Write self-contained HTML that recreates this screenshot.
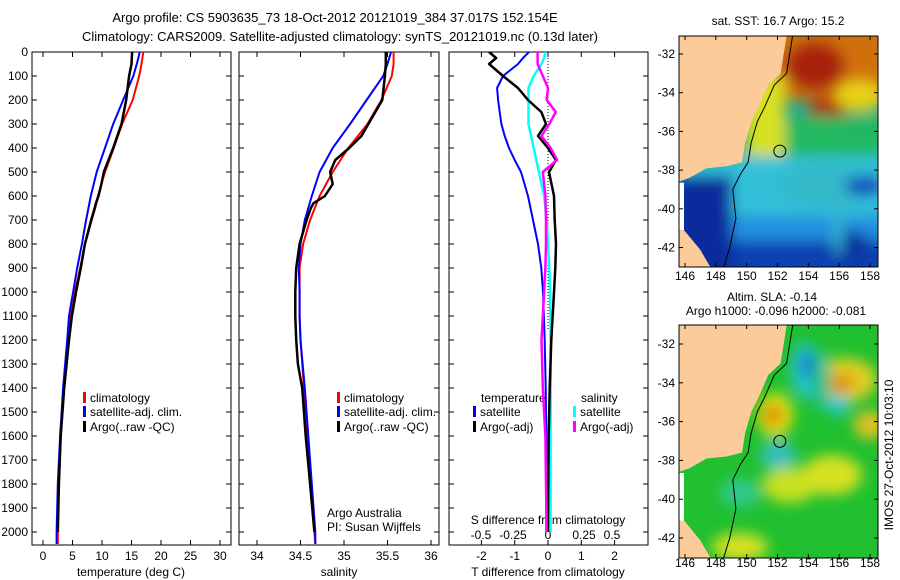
<!DOCTYPE html>
<html><head><meta charset="utf-8"><style>
html,body{margin:0;padding:0;background:#fff;}
svg{display:block;font-family:"Liberation Sans",sans-serif;}
</style></head><body>
<svg id="fig" width="900" height="580" viewBox="0 0 900 580" xmlns="http://www.w3.org/2000/svg">
<defs>
<clipPath id="c1"><rect x="32" y="52" width="199" height="493"/></clipPath>
<clipPath id="c2"><rect x="239" y="52" width="200" height="493"/></clipPath>
<clipPath id="c3"><rect x="449" y="52" width="199" height="493"/></clipPath>
<clipPath id="cm1"><rect x="679" y="36" width="199" height="231"/></clipPath>
<clipPath id="cm2"><rect x="679" y="325" width="199" height="233"/></clipPath>
<filter id="bl" x="-20%" y="-20%" width="140%" height="140%"><feGaussianBlur stdDeviation="7"/></filter>
</defs>
<g font-size="13" text-anchor="middle" fill="#000">
<text x="335" y="22">Argo profile: CS 5903635_73 18-Oct-2012 20121019_384 37.017S 152.154E</text>
<text x="340" y="41">Climatology: CARS2009. Satellite-adjusted climatology: synTS_20121019.nc (0.13d later)</text>
</g>
<g id="axes"></g>
<g id="series"></g>
<g id="maps"></g>
</svg>
<script>
// ---- data: depths (dbar) ----
const depths = [0,50,100,200,300,400,500,600,700,800,900,1000,1100,1200,1400,1600,1800,2000,2050];
// temperature (deg C)
const tempClim = [17.0,16.7,16.3,15.2,13.4,12.0,10.5,9.3,8.1,7.1,6.3,5.4,4.7,4.3,3.6,3.0,2.7,2.5,2.5];
const tempSat  = [16.4,15.9,15.3,13.6,11.9,10.5,9.1,8.1,7.3,6.6,5.8,5.1,4.4,4.1,3.4,2.9,2.5,2.3,2.3];
const argoDepths = [0,50,100,200,300,350,400,450,500,550,600,630,650,700,800,900,1000,1100,1200,1300,1400,1600,1800,2000];
const tempArgo = [15.1,15.0,14.6,14.1,13.3,12.6,11.9,11.1,10.3,9.9,9.4,9.0,8.8,8.2,7.1,6.4,5.6,4.9,4.4,4.0,3.6,3.0,2.7,2.5];
// salinity
const salClim = [35.57,35.57,35.55,35.43,35.27,35.05,34.87,34.72,34.61,34.53,34.49,34.49,34.49,34.50,34.54,34.58,34.62,34.66,34.67];
const salSat  = [35.54,35.50,35.45,35.26,35.07,34.87,34.72,34.63,34.55,34.50,34.48,34.49,34.49,34.50,34.55,34.59,34.63,34.67,34.67];
const salArgo = [35.48,35.48,35.47,35.44,35.28,35.2,35.06,34.9,34.84,34.87,34.78,34.65,34.62,34.57,34.49,34.45,34.44,34.44,34.45,34.47,34.52,34.56,34.61,34.66];
// differences from climatology
const diffDepths = [0,25,50,100,150,200,250,300,350,400,450,500,600,700,800,900,1000,1200,1400,1600,1800,2000];
const dTsat  = [-0.57,-0.75,-0.9,-1.35,-1.53,-1.5,-1.45,-1.4,-1.3,-1.17,-1.0,-0.81,-0.6,-0.45,-0.3,-0.2,-0.15,-0.1,-0.07,-0.05,-0.05,-0.05];
const dTargo = [-1.77,-1.56,-1.77,-1.35,-0.9,-0.6,-0.2,-0.06,-0.3,0.0,0.24,0.03,0.18,0.2,0.24,0.22,0.18,0.1,0.05,0.02,0.01,0.0];
const dSsat  = [-0.02,-0.03,-0.05,-0.11,-0.15,-0.15,-0.15,-0.15,-0.13,-0.11,-0.09,-0.07,-0.03,-0.01,0.0,0.01,0.015,0.02,0.02,0.02,0.02,0.02];
const dSargo = [-0.08,-0.08,-0.08,-0.04,0.0,-0.01,0.06,0.01,-0.05,0.02,0.07,-0.04,-0.02,-0.015,-0.015,-0.02,-0.03,-0.05,-0.04,-0.02,-0.015,-0.01];
// tick labels
const depthTicks = [0,100,200,300,400,500,600,700,800,900,1000,1100,1200,1300,1400,1500,1600,1700,1800,1900,2000];
const tempTicks = [0,5,10,15,20,25,30];
const salTicks = [34,34.5,35,35.5,36];
const salTickLabels = ["34","34.5","35","35.5","36"];
const dTTicks = [-2,-1,0,1,2];
const dSTicks = [-0.5,-0.25,0,0.25,0.5];
const dSTickLabels = ["-0.5","-0.25","0","0.25","0.5"];
const lonTicks = [146,148,150,152,154,156,158];
const latTicks = [-32,-34,-36,-38,-40,-42];

const NS="http://www.w3.org/2000/svg";
const yD = d => 52 + d*0.24;
const xT = t => 43 + t*5.9;
const xS = s => 257 + (s-34)*87;
const xDT = v => 548 + v*33.3;
const xDS = v => 548 + v*130;
const xLon = l => 685 + (l-146)*15.42;
const yLat1 = l => 54 + (-32-l)*19.35;
const yLat2 = l => 344 + (-32-l)*19.4;

function mk(tag, attrs, parent, text){
  const e=document.createElementNS(NS,tag);
  for(const k in attrs) e.setAttribute(k,attrs[k]);
  if(text!==undefined) e.textContent=text;
  parent.appendChild(e); return e;
}
const axes=document.getElementById('axes');
const series=document.getElementById('series');
const maps=document.getElementById('maps');

const frames=[[32,231,'temperature-panel-frame'],[239,439,'salinity-panel-frame'],[449,648,'difference-panel-frame']];
frames.forEach(f=>{
  const r=mk('rect',{x:f[0],y:52,width:f[1]-f[0],height:493,fill:'none',stroke:'#000','stroke-width':1},axes);
  
  
  depthTicks.forEach(d=>{
    mk('line',{x1:f[0],x2:f[0]+5,y1:yD(d),y2:yD(d),stroke:'#000'},axes);
    mk('line',{x1:f[1]-5,x2:f[1],y1:yD(d),y2:yD(d),stroke:'#000'},axes);
  });
});
depthTicks.forEach(d=>{
  const t=mk('text',{x:28,y:yD(d)+4,'font-size':12,'text-anchor':'end'},axes,String(d));
  
  
});
tempTicks.forEach(v=>{
  mk('line',{x1:xT(v),x2:xT(v),y1:545,y2:540,stroke:'#000'},axes);
  mk('line',{x1:xT(v),x2:xT(v),y1:52,y2:57,stroke:'#000'},axes);
  const t=mk('text',{x:xT(v),y:560,'font-size':12,'text-anchor':'middle'},axes,String(v));
  
  
});
salTicks.forEach((v,i)=>{
  mk('line',{x1:xS(v),x2:xS(v),y1:545,y2:540,stroke:'#000'},axes);
  mk('line',{x1:xS(v),x2:xS(v),y1:52,y2:57,stroke:'#000'},axes);
  const t=mk('text',{x:xS(v),y:560,'font-size':12,'text-anchor':'middle'},axes,salTickLabels[i]);
  
  
});
dTTicks.forEach(v=>{
  mk('line',{x1:xDT(v),x2:xDT(v),y1:545,y2:540,stroke:'#000'},axes);
  mk('line',{x1:xDT(v),x2:xDT(v),y1:52,y2:57,stroke:'#000'},axes);
  const t=mk('text',{x:xDT(v),y:560,'font-size':12,'text-anchor':'middle'},axes,String(v));
  
  
});
dSTicks.forEach((v,i)=>{
  const t=mk('text',{x:[481,513,548,584,612][i],y:539,'font-size':12,'text-anchor':'middle'},axes,dSTickLabels[i]);
  
  
});
const zl=mk('line',{x1:xDT(0),x2:xDT(0),y1:52,y2:330,stroke:'#000','stroke-dasharray':'1 2'},axes);



[[131,576,'temperature (deg C)','temperature-axis-title'],[339,576,'salinity','salinity-axis-title'],[548,576,'T difference from climatology','t-diff-axis-title'],[548,524,'S difference from climatology','s-diff-axis-title']].forEach(a=>{
  const t=mk('text',{x:a[0],y:a[1],'font-size':12,'text-anchor':'middle'},axes,a[2]);
  
  
});
const an1=mk('text',{x:327,y:517,'font-size':12},axes,'Argo Australia');


const an2=mk('text',{x:327,y:531,'font-size':12},axes,'PI: Susan Wijffels');



function line(xs, ds, xf, color, w, clip, name){
  const pts=xs.map((v,i)=>xf(v).toFixed(1)+','+yD(ds[i]).toFixed(1)).join(' ');
  const p=mk('polyline',{points:pts,fill:'none',stroke:color,'stroke-width':w,'clip-path':'url(#'+clip+')','stroke-linejoin':'round'},series);
  
  
}
line(tempClim, depths, xT, '#ff0000', 2, 'c1', 'temperature-climatology-line');
line(tempSat, depths, xT, '#0000ff', 2, 'c1', 'temperature-satellite-line');
line(tempArgo, argoDepths, xT, '#000', 2.5, 'c1', 'temperature-argo-line');
line(salClim, depths, xS, '#ff0000', 2, 'c2', 'salinity-climatology-line');
line(salSat, depths, xS, '#0000ff', 2, 'c2', 'salinity-satellite-line');
line(salArgo, argoDepths, xS, '#000', 2.5, 'c2', 'salinity-argo-line');
line(dTsat, diffDepths, xDT, '#0000ff', 2, 'c3', 't-diff-satellite-line');
line(dSsat, diffDepths, xDS, '#00ffff', 2.5, 'c3', 's-diff-satellite-line');
line(dTargo, diffDepths, xDT, '#000', 2.5, 'c3', 't-diff-argo-line');
line(dSargo, diffDepths, xDS, '#ff00ff', 2.5, 'c3', 's-diff-argo-line');

function leg(x,y,color,label,name){
  const g=mk('g',{},axes);
  
  
  mk('rect',{x:x,y:y-10,width:3,height:11,fill:color},g);
  mk('text',{x:x+7,y:y,'font-size':12},g,label);
}
leg(83,402,'#ff0000','climatology','legend-temp-climatology');
leg(83,416,'#0000ff','satellite-adj. clim.','legend-temp-satellite');
leg(83,431,'#000','Argo(..raw -QC)','legend-temp-argo');
leg(337,402,'#ff0000','climatology','legend-sal-climatology');
leg(337,416,'#0000ff','satellite-adj. clim.','legend-sal-satellite');
leg(337,431,'#000','Argo(..raw -QC)','legend-sal-argo');
const lt=mk('text',{x:481,y:402,'font-size':12},axes,'temperature');


const ls=mk('text',{x:581,y:402,'font-size':12},axes,'salinity');


leg(473,416,'#0000ff','satellite','legend-tdiff-satellite');
leg(473,431,'#000','Argo(-adj)','legend-tdiff-argo');
leg(573,416,'#00ffff','satellite','legend-sdiff-satellite');
leg(573,431,'#ff00ff','Argo(-adj)','legend-sdiff-argo');

// ---- maps ----
const coast = [[152.6,-31],[152.2,-33],[151.4,-33.6],[150.8,-34.7],[150.3,-35.5],[149.9,-36.6],[149.7,-37.6],[148.7,-37.8],[147.4,-37.9],[146.3,-38.4],[145.6,-38.6]];
function drawMap(top, yLat, clip, blobs, base, name){
  const g=mk('g',{'clip-path':'url(#'+clip+')'},maps);
  
  
  mk('rect',{x:679,y:top,width:199,height:240,fill:base},g);
  const bg=mk('g',{filter:'url(#bl)'},g);
  blobs.forEach(b=>{
    if(b[0]==='r') mk('rect',{x:b[1],y:b[2]+top,width:b[3],height:b[4],fill:b[5]},bg);
    else mk('ellipse',{cx:b[1],cy:b[2]+top,rx:b[3],ry:b[4],fill:b[5]},bg);
  });
  let pts=coast.map(c=>xLon(c[0]).toFixed(1)+','+yLat(c[1]).toFixed(1)).join(' ');
  pts+=' 660,'+yLat(-38.6)+' 660,'+(top-10)+' '+xLon(152.6)+','+(top-10);
  const land=mk('polygon',{points:pts,fill:'#fbcb99'},g);
  
  
  mk('polygon',{points:`660,${yLat(-41.1)} 684,${yLat(-41.1)} 692,${yLat(-41.6)} 700,${yLat(-42.1)} 708,${yLat(-42.8)} 714,${yLat(-43.3)} 660,${yLat(-43.3)}`,fill:'#fbcb99'},g);
  mk('rect',{x:679,y:yLat(-38.65),width:5,height:yLat(-41.1)-yLat(-38.65),fill:'#fff'},g);
  const iso=coast.slice(0,7).map(c=>(xLon(c[0])+6).toFixed(1)+','+yLat(c[1]).toFixed(1)).join(' ');
  mk('polyline',{points:iso+' '+xLon(149.6)+','+yLat(-38.2)+' '+xLon(149.1)+','+yLat(-39)+' '+xLon(149.3)+','+yLat(-40.5)+' '+xLon(148.9)+','+yLat(-42)+' '+xLon(148.4)+','+yLat(-43.3),fill:'none',stroke:'#000','stroke-width':1},g);
  const m=mk('circle',{cx:xLon(152.15),cy:yLat(-37.02),r:6,fill:'none',stroke:'#000','stroke-width':1},g);
  
  
}
const sstBlobs=[
 ['r',680,-10,210,75,'#d07010'],['e',815,30,30,25,'#a82010'],['e',828,75,20,12,'#a82010'],
 ['r',745,40,40,125,'#d8e020'],['e',860,60,25,16,'#e8d018'],['r',785,80,105,40,'#20b860'],
 ['r',680,120,210,65,'#30c0d8'],['e',830,150,50,20,'#30b8c8'],
 ['r',680,180,210,35,'#2090e0'],['r',680,205,210,40,'#1040b0'],
 ['r',672,140,60,110,'#0c2c9c'],['e',865,150,20,10,'#1848c0'],['e',850,210,20,15,'#1030a0'],['e',838,195,5,25,'#30b8d0']
];
const slaBlobs=[
 ['e',805,45,14,28,'#20c8d0'],['e',807,40,6,14,'#1858d0'],
 ['e',775,90,18,22,'#e8e010'],['e',773,90,9,10,'#e07010'],
 ['e',845,55,32,22,'#e0d020'],['e',840,58,15,10,'#e09010'],
 ['e',838,80,12,10,'#20c8d0'],['e',870,100,16,14,'#e8c020'],
 ['e',778,130,18,14,'#30c0c0'],['e',790,160,28,18,'#c8e020'],['e',832,150,30,20,'#d8e020'],
 ['e',740,168,20,14,'#30c890'],['e',740,222,28,14,'#d8e020'],['e',820,55,10,30,'#20c090']
];
drawMap(36, yLat1, 'cm1', sstBlobs, '#18a898', 'sst-map');
drawMap(325, yLat2, 'cm2', slaBlobs, '#20c030', 'sla-map');
[[36,267,yLat1,280,'sst'],[325,558,yLat2,567,'sla']].forEach(m=>{
  const r=mk('rect',{x:679,y:m[0],width:199,height:m[1]-m[0],fill:'none',stroke:'#000'},maps);
  
  
  lonTicks.forEach(l=>{
    mk('line',{x1:xLon(l),x2:xLon(l),y1:m[1],y2:m[1]-4,stroke:'#000'},maps);
    mk('line',{x1:xLon(l),x2:xLon(l),y1:m[0],y2:m[0]+4,stroke:'#000'},maps);
    const t=mk('text',{x:xLon(l),y:m[3],'font-size':12,'text-anchor':'middle'},maps,String(l));
    
    
  });
  latTicks.forEach(l=>{
    mk('line',{x1:679,x2:683,y1:m[2](l),y2:m[2](l),stroke:'#000'},maps);
    mk('line',{x1:874,x2:878,y1:m[2](l),y2:m[2](l),stroke:'#000'},maps);
    const t=mk('text',{x:675,y:m[2](l)+4,'font-size':12,'text-anchor':'end'},maps,String(l));
    
    
  });
});
[[778,25,'sat. SST: 16.7 Argo: 15.2','sst-map-title'],[772,301,'Altim. SLA: -0.14','sla-map-title'],[776,315,'Argo h1000: -0.096 h2000: -0.081','argo-height-title']].forEach(a=>{
  const t=mk('text',{x:a[0],y:a[1],'font-size':12,'text-anchor':'middle'},maps,a[2]);
  
  
});
const st=mk('text',{x:0,y:0,'font-size':12,'text-anchor':'middle',transform:'translate(893,455) rotate(-90)'},maps,'IMOS 27-Oct-2012 10:03:10');


</script>
</body></html>
